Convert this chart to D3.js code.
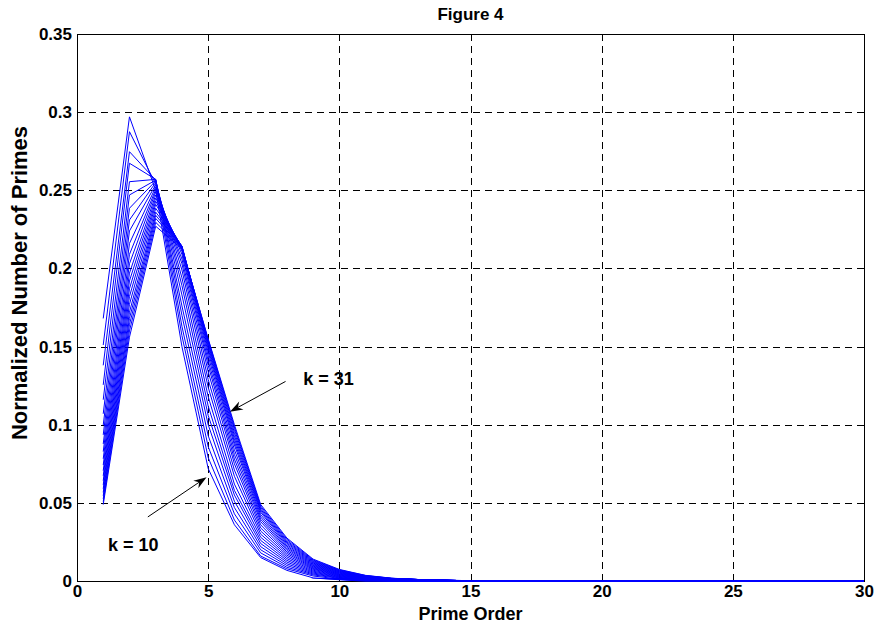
<!DOCTYPE html>
<html>
<head>
<meta charset="utf-8">
<script src="https://cdn.jsdelivr.net/npm/d3@7/dist/d3.min.js"></script>
<style>
  html, body { margin: 0; padding: 0; background: #fff; }
  svg { display: block; }
  text { font-family: "Liberation Sans", Arial, Helvetica, sans-serif; font-weight: bold; fill: #000; }
</style>
</head>
<body>
<svg id="chart" width="876" height="629"></svg>
<script>
// Prime order axis (1..30)
const primeOrder = d3.range(1, 31);

// Normalized number of primes per prime order, one array per k (k = 10 .. 31)
const k10 = [0.168, 0.297, 0.250, 0.150, 0.072, 0.036, 0.015, 0.0068, 0.002, 0.001, 0, 0, 0, 0, 0, 0, 0, 0, 0, 0, 0, 0, 0, 0, 0, 0, 0, 0, 0, 0];
const k11 = [0.151, 0.2875, 0.254, 0.157, 0.079, 0.039, 0.016, 0.0078, 0.0032, 0.0012, 0.0005, 0, 0, 0, 0, 0, 0, 0, 0, 0, 0, 0, 0, 0, 0, 0, 0, 0, 0, 0];
const k12 = [0.138, 0.2747, 0.2565, 0.163, 0.086, 0.043, 0.018, 0.0088, 0.0039, 0.0017, 0.0007, 0.0002, 0, 0, 0, 0, 0, 0, 0, 0, 0, 0, 0, 0, 0, 0, 0, 0, 0, 0];
const k13 = [0.1255, 0.2673, 0.257, 0.170, 0.093, 0.047, 0.020, 0.0099, 0.0045, 0.002, 0.0009, 0.0004, 0.0001, 0, 0, 0, 0, 0, 0, 0, 0, 0, 0, 0, 0, 0, 0, 0, 0, 0];
const k14 = [0.116, 0.2555, 0.257, 0.176, 0.100, 0.051, 0.022, 0.011, 0.0051, 0.0023, 0.0011, 0.0005, 0.0002, 0.0001, 0, 0, 0, 0, 0, 0, 0, 0, 0, 0, 0, 0, 0, 0, 0, 0];
const k15 = [0.107, 0.247, 0.2565, 0.183, 0.106, 0.055, 0.024, 0.0121, 0.0057, 0.0026, 0.0012, 0.0006, 0.0003, 0.0001, 0, 0, 0, 0, 0, 0, 0, 0, 0, 0, 0, 0, 0, 0, 0, 0];
const k16 = [0.0998, 0.2385, 0.256, 0.189, 0.112, 0.058, 0.026, 0.0132, 0.0063, 0.0029, 0.0014, 0.0007, 0.0003, 0.0002, 0, 0, 0, 0, 0, 0, 0, 0, 0, 0, 0, 0, 0, 0, 0, 0];
const k17 = [0.0935, 0.231, 0.255, 0.194, 0.118, 0.062, 0.028, 0.0143, 0.0069, 0.0032, 0.0015, 0.0008, 0.0004, 0.0002, 0, 0, 0, 0, 0, 0, 0, 0, 0, 0, 0, 0, 0, 0, 0, 0];
const k18 = [0.0877, 0.224, 0.2535, 0.199, 0.124, 0.067, 0.030, 0.0154, 0.0075, 0.0035, 0.0017, 0.0008, 0.0004, 0.0002, 0, 0, 0, 0, 0, 0, 0, 0, 0, 0, 0, 0, 0, 0, 0, 0];
const k19 = [0.0828, 0.216, 0.252, 0.203, 0.129, 0.071, 0.032, 0.0165, 0.008, 0.0038, 0.0018, 0.0009, 0.0005, 0.0002, 0, 0, 0, 0, 0, 0, 0, 0, 0, 0, 0, 0, 0, 0, 0, 0];
const k20 = [0.0782, 0.209, 0.2505, 0.206, 0.134, 0.075, 0.034, 0.0176, 0.0085, 0.0041, 0.002, 0.001, 0.0005, 0.0002, 0, 0, 0, 0, 0, 0, 0, 0, 0, 0, 0, 0, 0, 0, 0, 0];
const k21 = [0.0742, 0.203, 0.249, 0.209, 0.138, 0.078, 0.036, 0.0186, 0.009, 0.0044, 0.0021, 0.0011, 0.0005, 0.0003, 0, 0, 0, 0, 0, 0, 0, 0, 0, 0, 0, 0, 0, 0, 0, 0];
const k22 = [0.0706, 0.197, 0.247, 0.211, 0.141, 0.081, 0.038, 0.0196, 0.0095, 0.0047, 0.0023, 0.0011, 0.0006, 0.0003, 0, 0, 0, 0, 0, 0, 0, 0, 0, 0, 0, 0, 0, 0, 0, 0];
const k23 = [0.0673, 0.192, 0.245, 0.2125, 0.144, 0.084, 0.0395, 0.0206, 0.010, 0.005, 0.0024, 0.0012, 0.0006, 0.0003, 0, 0, 0, 0, 0, 0, 0, 0, 0, 0, 0, 0, 0, 0, 0, 0];
const k24 = [0.0642, 0.187, 0.243, 0.2135, 0.1465, 0.087, 0.041, 0.0215, 0.0105, 0.0053, 0.0026, 0.0013, 0.0006, 0.0003, 0, 0, 0, 0, 0, 0, 0, 0, 0, 0, 0, 0, 0, 0, 0, 0];
const k25 = [0.0615, 0.182, 0.241, 0.214, 0.1485, 0.089, 0.0425, 0.0224, 0.011, 0.0056, 0.0027, 0.0014, 0.0007, 0.0003, 0, 0, 0, 0, 0, 0, 0, 0, 0, 0, 0, 0, 0, 0, 0, 0];
const k26 = [0.059, 0.177, 0.2385, 0.2143, 0.150, 0.091, 0.044, 0.0233, 0.0115, 0.0059, 0.0029, 0.0014, 0.0007, 0.0004, 0, 0, 0, 0, 0, 0, 0, 0, 0, 0, 0, 0, 0, 0, 0, 0];
const k27 = [0.0567, 0.172, 0.236, 0.2143, 0.1515, 0.093, 0.045, 0.0242, 0.012, 0.0062, 0.003, 0.0015, 0.0008, 0.0004, 0, 0, 0, 0, 0, 0, 0, 0, 0, 0, 0, 0, 0, 0, 0, 0];
const k28 = [0.0545, 0.168, 0.234, 0.214, 0.1525, 0.095, 0.046, 0.025, 0.0125, 0.0065, 0.0032, 0.0016, 0.0008, 0.0004, 0, 0, 0, 0, 0, 0, 0, 0, 0, 0, 0, 0, 0, 0, 0, 0];
const k29 = [0.0525, 0.164, 0.232, 0.2135, 0.1535, 0.097, 0.047, 0.0258, 0.013, 0.0068, 0.0033, 0.0017, 0.0008, 0.0004, 0, 0, 0, 0, 0, 0, 0, 0, 0, 0, 0, 0, 0, 0, 0, 0];
const k30 = [0.0507, 0.160, 0.2295, 0.213, 0.1545, 0.0985, 0.048, 0.0267, 0.0135, 0.0071, 0.0035, 0.0017, 0.0009, 0.0004, 0, 0, 0, 0, 0, 0, 0, 0, 0, 0, 0, 0, 0, 0, 0, 0];
const k31 = [0.0489, 0.156, 0.227, 0.2125, 0.155, 0.100, 0.049, 0.0275, 0.014, 0.0074, 0.0036, 0.0018, 0.0009, 0.0005, 0, 0, 0, 0, 0, 0, 0, 0, 0, 0, 0, 0, 0, 0, 0, 0];

const seriesValues = [k10, k11, k12, k13, k14, k15, k16, k17, k18, k19, k20, k21,
                      k22, k23, k24, k25, k26, k27, k28, k29, k30, k31];

// Axis ticks
const xTicks = [0, 5, 10, 15, 20, 25, 30];
const yTicks = [0, 0.05, 0.1, 0.15, 0.2, 0.25, 0.3, 0.35];
const yTickLabels = ["0", "0.05", "0.1", "0.15", "0.2", "0.25", "0.3", "0.35"];

// Arrow annotations in data units: label anchor, arrow tail, arrow tip
const notes = [
  { text: "k = 31", tx: 8.62, ty: 0.1296, x1: 7.95, y1: 0.1277, x2: 5.83, y2: 0.1083 },
  { text: "k = 10", tx: 1.18, ty: 0.0230, x1: 2.70, y1: 0.0410, x2: 4.94, y2: 0.0664 }
];

const svg = d3.select("#chart");
const L = 77, R = 864, T = 34, B = 581;

const x = d3.scaleLinear().domain([0, 30]).range([L, R]);
const y = d3.scaleLinear().domain([0, 0.35]).range([B, T]);

// Dashed grid
const grid = svg.append("g").attr("stroke", "#000").attr("stroke-width", 1)
  .attr("stroke-dasharray", "7,5").attr("shape-rendering", "crispEdges");
grid.selectAll("line.gx").data(xTicks.slice(1, -1)).join("line")
  .attr("x1", d => Math.round(x(d)) + 0.5).attr("x2", d => Math.round(x(d)) + 0.5)
  .attr("y1", T).attr("y2", B);
grid.selectAll("line.gy").data(yTicks.slice(1, -1)).join("line")
  .attr("y1", d => Math.round(y(d)) + 0.5).attr("y2", d => Math.round(y(d)) + 0.5)
  .attr("x1", L).attr("x2", R);

// Axes with inward ticks on all four sides
const tickLen = 7;
const fontSize = "17px";
const gx = svg.append("g").attr("transform", `translate(0,${B})`)
  .call(d3.axisBottom(x).tickValues(xTicks).tickFormat(d3.format("d"))
    .tickSizeInner(-tickLen).tickSizeOuter(0).tickPadding(4));
const gxTop = svg.append("g").attr("transform", `translate(0,${T})`)
  .call(d3.axisTop(x).tickValues(xTicks).tickFormat("").tickSizeInner(-tickLen).tickSizeOuter(0));
const gy = svg.append("g").attr("transform", `translate(${L},0)`)
  .call(d3.axisLeft(y).tickValues(yTicks).tickFormat((d, i) => yTickLabels[i])
    .tickSizeInner(-tickLen).tickSizeOuter(0).tickPadding(5));
const gyRight = svg.append("g").attr("transform", `translate(${R},0)`)
  .call(d3.axisRight(y).tickValues(yTicks).tickFormat("").tickSizeInner(-tickLen).tickSizeOuter(0));

[gx, gxTop, gy, gyRight].forEach(g => {
  g.select(".domain").remove();
  g.selectAll("line").attr("stroke", "#000").attr("shape-rendering", "crispEdges");
  g.selectAll("text").attr("font-size", fontSize).attr("font-family", null).attr("fill", "#000");
});

// Series lines
const line = d3.line().x((d, i) => x(primeOrder[i])).y(d => y(d));
svg.append("g").selectAll("path").data(seriesValues).join("path")
  .attr("d", line).attr("fill", "none").attr("stroke", "#0000ff").attr("stroke-width", 1);

// Axes box
svg.append("rect").attr("x", L + 0.5).attr("y", T + 0.5)
  .attr("width", R - L).attr("height", B - T)
  .attr("fill", "none").attr("stroke", "#000").attr("stroke-width", 1)
  .attr("shape-rendering", "crispEdges");

// Data sits above the box: repeat the flat tail over the bottom edge
svg.append("clipPath").attr("id", "bottomClip").append("rect")
  .attr("x", L).attr("y", B - 3).attr("width", R - L + 1).attr("height", 6);
svg.append("g").attr("clip-path", "url(#bottomClip)")
  .selectAll("path").data(seriesValues).join("path")
  .attr("d", line).attr("fill", "none").attr("stroke", "#0000ff").attr("stroke-width", 1.4);

// Titles
svg.append("text").attr("x", (L + R) / 2).attr("y", 20).attr("text-anchor", "middle")
  .attr("font-size", "17px").text("Figure 4");
svg.append("text").attr("x", (L + R) / 2).attr("y", 620).attr("text-anchor", "middle")
  .attr("font-size", "18px").text("Prime Order");
svg.append("text").attr("transform", `translate(27,283) rotate(-90)`)
  .attr("text-anchor", "middle").attr("font-size", "22px").text("Normalized Number of Primes");

// Arrow annotations
notes.forEach(n => {
  const xa = x(n.x1), ya = y(n.y1), xb = x(n.x2), yb = y(n.y2);
  const ang = Math.atan2(yb - ya, xb - xa);
  const len = 13, half = 4.5, notch = 9;
  const p = (d, s) => [xb - Math.cos(ang) * d - Math.sin(ang) * s, yb - Math.sin(ang) * d + Math.cos(ang) * s];
  svg.append("line").attr("x1", xa).attr("y1", ya)
    .attr("x2", p(notch, 0)[0]).attr("y2", p(notch, 0)[1])
    .attr("stroke", "#000").attr("stroke-width", 1);
  svg.append("path")
    .attr("d", "M" + [[xb, yb], p(len, half), p(notch, 0), p(len, -half)].map(q => q.join(",")).join("L") + "Z")
    .attr("fill", "#000");
  svg.append("text").attr("x", x(n.tx)).attr("y", y(n.ty)).attr("dy", "0.35em")
    .attr("font-size", "18px").text(n.text);
});
</script>
</body>
</html>
